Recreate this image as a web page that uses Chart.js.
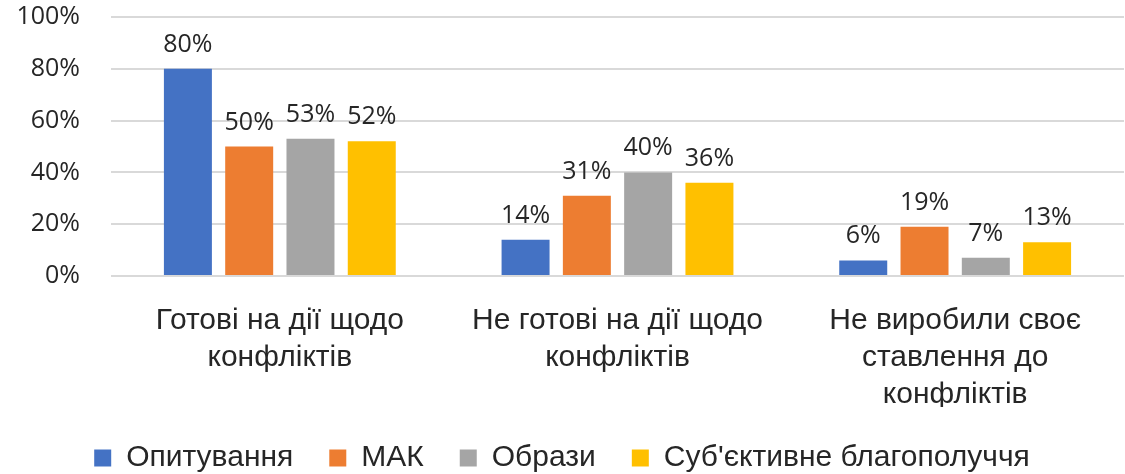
<!DOCTYPE html>
<html>
<head>
<meta charset="utf-8">
<script src="https://cdn.jsdelivr.net/npm/chart.js@4"></script>
<style>
  html, body { margin: 0; padding: 0; background: #fff; }
  #wrap { width: 1125px; height: 474px; }
</style>
</head>
<body>
<div id="wrap"><canvas id="grafico" width="1125" height="474"></canvas></div>
<script>
// Дані
const categorias = [
  ['Готові на дії щодо', 'конфліктів'],
  ['Не готові на дії щодо', 'конфліктів'],
  ['Не виробили своє', 'ставлення до', 'конфліктів']
];
const series = ['Опитування', 'МАК', 'Образи', "Суб'єктивне благополуччя"];
const opytuvannya = [80, 14, 6];
const mak = [50, 31, 19];
const obrazy = [53, 40, 7];
const blagopoluchchya = [52, 36, 13];
const yTicks = [0, 20, 40, 60, 80, 100];

const cores = ['#4472C4', '#ED7D31', '#A5A5A5', '#FFC000'];
const fonteNum = 'Open Sans';
const fonteTexto = 'Liberation Sans Narrow, Liberation Sans, sans-serif';

// Rótulos de valor sobre as barras
const rotulos = {
  id: 'rotulos',
  afterDatasetsDraw(chart) {
    const ctx = chart.ctx;
    ctx.save();
    ctx.font = '25px ' + fonteNum;
    ctx.fillStyle = '#262626';
    ctx.textAlign = 'center';
    ctx.textBaseline = 'alphabetic';
    chart.data.datasets.forEach((ds, i) => {
      chart.getDatasetMeta(i).data.forEach((bar, j) => {
        ctx.fillText(ds.data[j] + '%', bar.x, bar.y - 17);
      });
    });
    ctx.restore();
  }
};

const ctx = document.getElementById('grafico').getContext('2d');
new Chart(ctx, {
  type: 'bar',
  data: {
    labels: categorias,
    datasets: [
      { label: series[0], data: opytuvannya, backgroundColor: cores[0] },
      { label: series[1], data: mak, backgroundColor: cores[1] },
      { label: series[2], data: obrazy, backgroundColor: cores[2] },
      { label: series[3], data: blagopoluchchya, backgroundColor: cores[3] }
    ]
  },
  options: {
    responsive: false,
    animation: false,
    categoryPercentage: 0.726,
    barPercentage: 0.783,
    layout: { padding: { top: 17, right: 1, left: 0, bottom: -9 } },
    scales: {
      x: {
        afterFit: scale => { scale.height = 131; },
        grid: { display: false, drawTicks: false },
        border: { display: false },
        ticks: {
          color: '#262626',
          font: { family: fonteTexto, size: 30, lineHeight: 1.24 },
          padding: 26,
          maxRotation: 0,
          autoSkip: false
        }
      },
      y: {
        min: 0,
        max: 100,
        afterBuildTicks: scale => { scale.ticks = yTicks.map(v => ({ value: v })); },
        afterFit: scale => {
          scale.width = 111;
          scale.paddingTop = 0;
          scale.paddingBottom = 0;
        },
        grid: { color: '#D9D9D9', lineWidth: 2, drawTicks: false },
        border: { display: false },
        ticks: {
          color: '#262626',
          font: { family: fonteNum, size: 25 },
          padding: 31,
          callback: v => v + '%'
        }
      }
    },
    plugins: {
      legend: {
        position: 'bottom',
        labels: {
          color: '#262626',
          font: { family: fonteTexto, size: 30 },
          boxWidth: 17,
          boxHeight: 17,
          padding: 36
        }
      },
      tooltip: { enabled: false }
    }
  },
  plugins: [rotulos]
});
</script>
</body>
</html>
